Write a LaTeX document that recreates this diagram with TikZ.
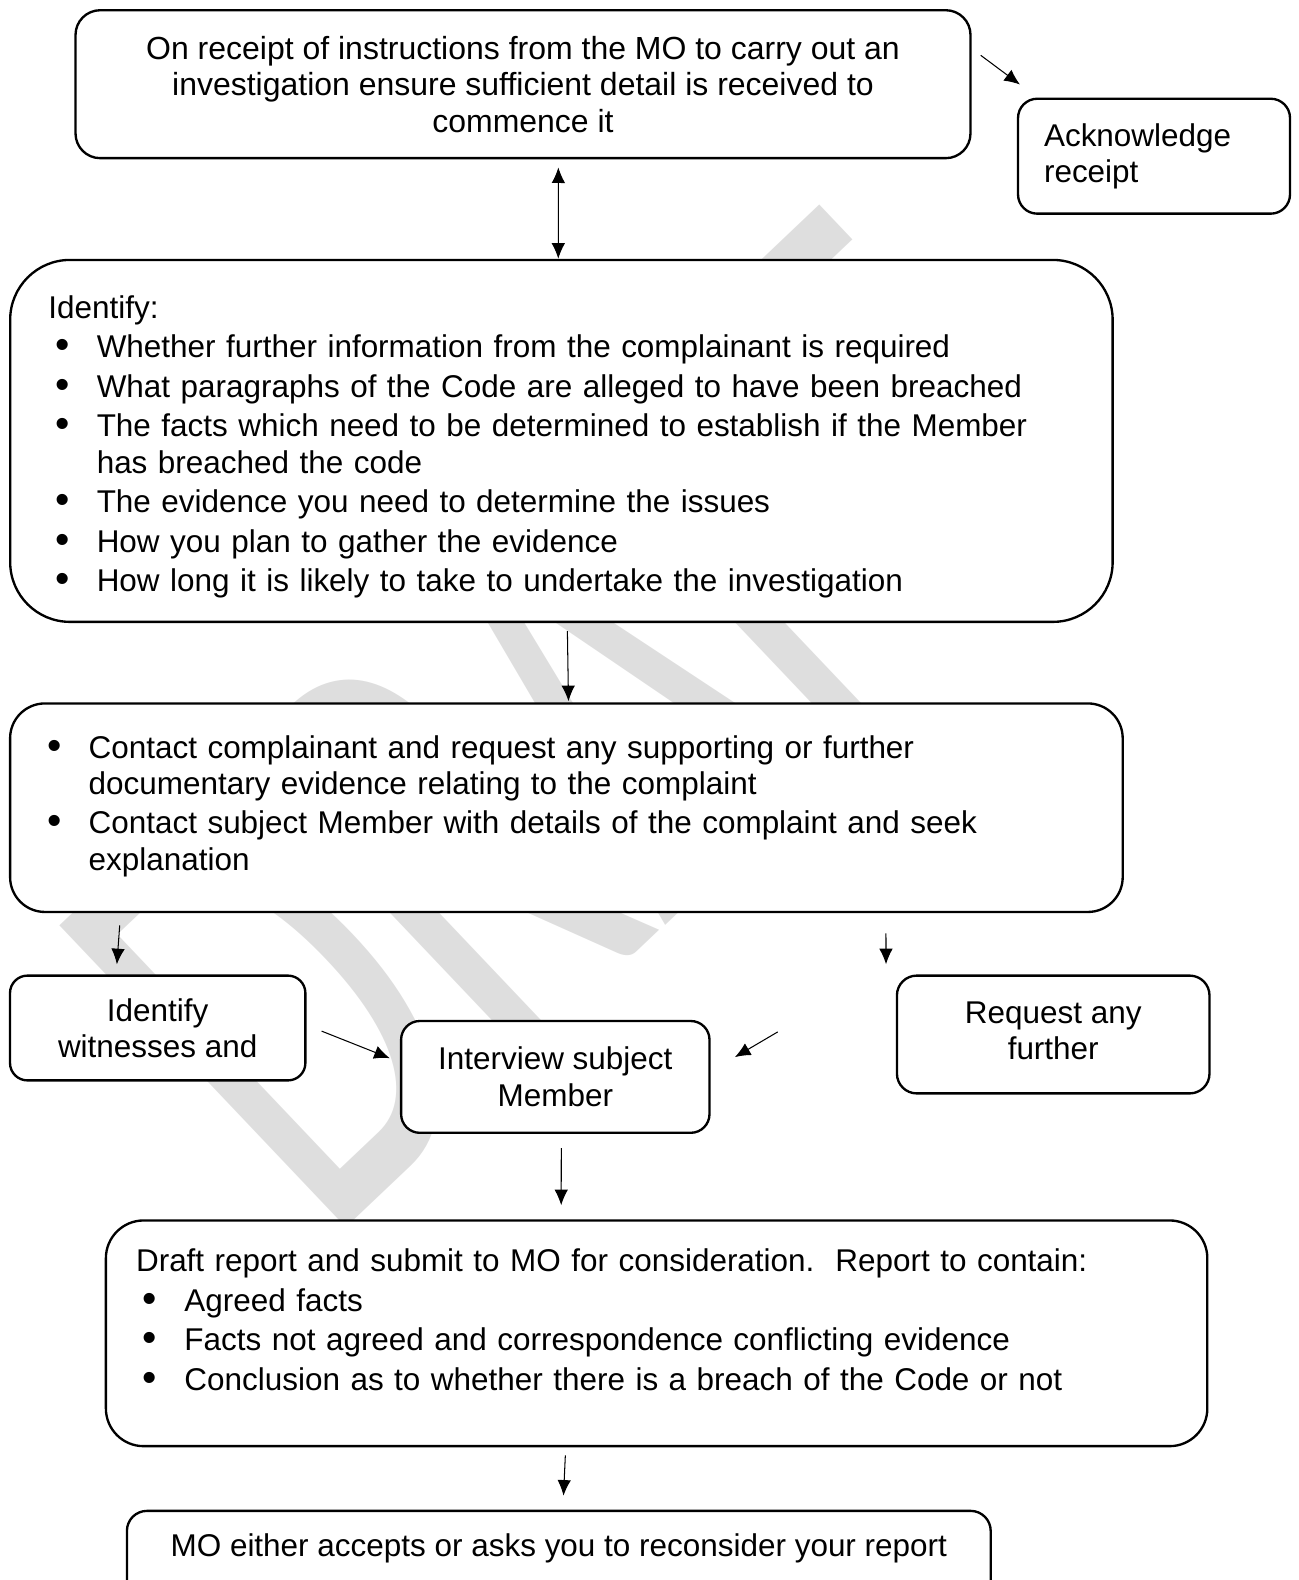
\documentclass[tikz,border=0pt]{standalone}
\usepackage{fontspec}
\setmainfont{Liberation Sans}
\newfontfamily\wmfont{Carlito}
\usetikzlibrary{shapes,arrows.meta,calc}
\definecolor{wmgray}{HTML}{DEDEDE}
\tikzstyle{block} = [rectangle, draw, fill=white, line width=0.9pt,
    inner sep=0pt, font=\fontsize{12.1}{14}\selectfont]
\tikzstyle{line} = [draw, line width=0.4pt, -{Latex[length=6pt, width=5.2pt]}]
\tikzstyle{both} = [draw, line width=0.4pt, {Latex[length=6pt, width=5.2pt]}-{Latex[length=6pt, width=5.2pt]}]
\newlength{\bulind}\setlength{\bulind}{18.6pt}
\newcommand{\bul}{\par\hangindent=\bulind\hangafter=1\noindent
    \makebox[\bulind][l]{\hspace*{2.6pt}\raisebox{-0.4pt}{\scalebox{1.3}{\textbullet}}}}
\newcommand{\vpad}[1]{\par\nointerlineskip\kern#1\hbox{}}

\begin{document}
\begin{tikzpicture}[x=0.3846pt, y=-0.3846pt]
    \useasboundingbox (0,0) rectangle (1298,1580);
    \clip (0,0) rectangle (1298,1580);
    % Watermark
    \node [wmgray, font=\wmfont\fontsize{249.5}{249.5}\selectfont, rotate=43.5,
        anchor=base west, inner sep=0pt] (wm) at (326,1247) {\scalebox{0.62}[1]{DRAFT}};
    % Place nodes
    \node [block, font=\fontsize{12.3}{14}\selectfont, rounded corners=9.5pt, minimum width=344.2pt, minimum height=56.9pt, align=center] (receipt) at (523,84.2)
        {On receipt of instructions from the MO to carry out an\\investigation ensure sufficient detail is received to\\commence it};
    \node [block, rounded corners=7.4pt, text width=84.6pt, inner xsep=10pt, minimum height=44.2pt, align=left] (ack) at (1154,156.2)
        {Acknowledge\newline receipt};
    \node [block, rounded corners=23pt, text width=394.6pt, inner xsep=14.7pt, minimum height=139.2pt, align=left] (identify) at (561.4,440.9)
        {\setlength{\parskip}{1.2pt}\noindent Identify:
         \bul Whether further information from the complainant is required
         \bul What paragraphs of the Code are alleged to have been breached
         \bul The facts which need to be determined to establish if the Member\newline has breached the code
         \bul The evidence you need to determine the issues
         \bul How you plan to gather the evidence
         \bul How long it is likely to take to undertake the investigation\vpad{-4.6pt}};
    \node [block, rounded corners=13.4pt, text width=404.7pt, inner xsep=11.6pt, minimum height=80.2pt, align=left] (contact) at (566.4,807.7)
        {\setlength{\parskip}{1.2pt}%
         \bul Contact complainant and request any supporting or further\newline documentary evidence relating to the complaint
         \bul Contact subject Member with details of the complaint and seek\newline explanation\vpad{7.7pt}};
    \node [block, rounded corners=6.7pt, minimum width=113.6pt, minimum height=40.3pt, align=center] (witness) at (157.7,1028)
        {Identify\\witnesses and};
    \node [block, rounded corners=7.6pt, minimum width=120.2pt, minimum height=45.3pt, text depth=3pt, align=center] (request) at (1053.2,1034.5)
        {Request any\\further};
    \node [block, rounded corners=7.2pt, minimum width=118.6pt, minimum height=43pt, align=center] (interview) at (555.3,1076.9)
        {Interview subject\\Member};
    \node [block, rounded corners=14.5pt, text width=400.4pt, inner xsep=11.6pt, minimum height=86.8pt, align=left] (draft) at (656.6,1333.3)
        {\setlength{\parskip}{1.2pt}\noindent Draft report and submit to MO for consideration.\ \ Report to contain:
         \bul Agreed facts
         \bul Facts not agreed and correspondence conflicting evidence
         \bul Conclusion as to whether there is a breach of the Code or not\vpad{10pt}};
    \node [block, rounded corners=7.7pt, minimum width=332.2pt, inner ysep=8.7pt, text height=9pt, text depth=40pt, anchor=north] (mo) at (558.8,1509.7)
        {MO either accepts or asks you to reconsider your report};
    % Draw edges
    \path [line] ([xshift=3.5pt, yshift=11.1pt]receipt.east) -- ([xshift=1.2pt, yshift=5pt]ack.north west);
    \path [both] ([xshift=13.6pt, yshift=-3.1pt]receipt.south) -- ([xshift=-1.2pt]identify.north);
    \path [line] ([xshift=2.3pt, yshift=-3.1pt]identify.south) -- ([xshift=0.8pt, yshift=0.4pt]contact.north);
    \path [line] ([xshift=42.6pt, yshift=-4.7pt]contact.south west) -- ([xshift=-15.7pt, yshift=3.9pt]witness.north);
    \path [line] ([xshift=-91.5pt, yshift=-7.8pt]contact.south east) -- ([xshift=-64.3pt, yshift=3.9pt]request.north);
    \path [line] ([xshift=5.8pt, yshift=-1.2pt]witness.east) -- ([xshift=-3.9pt, yshift=7.2pt]interview.west);
    \path [line] ([xshift=-45.4pt, yshift=1pt]request.west) -- ([xshift=9.3pt, yshift=7.6pt]interview.east);
    \path [line] ([xshift=2.3pt, yshift=-5.4pt]interview.south) -- ([xshift=-36.7pt, yshift=5.4pt]draft.north);
    \path [line] ([xshift=-35.1pt, yshift=-3.1pt]draft.south) -- ([xshift=1.8pt, yshift=5.4pt]mo.north);
\end{tikzpicture}
\end{document}
